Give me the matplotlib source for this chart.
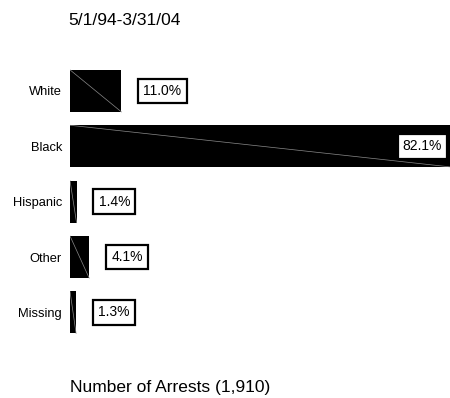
import matplotlib
matplotlib.use('Agg')
import matplotlib.pyplot as plt

# arrests by race, share of total
races = ['White', 'Black', 'Hispanic', 'Other', 'Missing']
pct = [11.0, 82.1, 1.4, 4.1, 1.3]
pct_labels = ['11.0%', '82.1%', '1.4%', '4.1%', '1.3%']
period = '5/1/94-3/31/04'
total_label = 'Number of Arrests (1,910)'

plt.rcParams['font.family'] = ['Liberation Sans', 'DejaVu Sans']

fig = plt.figure(figsize=(4.5, 3.98), dpi=100)
ax = fig.add_axes([0.1556, 0.1106, 0.8444, 0.7653])

ypos = list(range(len(races)))
bar_h = 0.76
ax.barh(ypos, pct, height=bar_h, color='black', edgecolor='none')

# thin seam across each bar, like the original rendering
for y, v in zip(ypos, pct):
    ax.plot([0, v], [y - bar_h / 2, y + bar_h / 2], color='#8a8a8a', lw=0.5)

box = dict(boxstyle='square,pad=0.38', facecolor='white', edgecolor='black', linewidth=1.6)
for y, v, lab in zip(ypos, pct, pct_labels):
    if v > 50:
        # too long: put the label inside the end of the bar
        ax.annotate(lab, xy=(v, y), xytext=(-12, 0), textcoords='offset pixels',
                    ha='right', va='center', fontsize=10, bbox=box, annotation_clip=False)
    else:
        ax.annotate(lab, xy=(v, y), xytext=(22, 0), textcoords='offset pixels',
                    ha='left', va='center', fontsize=10, bbox=box)

ax.set_xlim(0, 81.2)
ax.set_ylim(4.75, -0.75)
ax.set_yticks(ypos)
ax.set_yticklabels(races, fontsize=9.3)
ax.set_xticks([])
ax.tick_params(axis='y', length=0, pad=5.8)
for s in ax.spines.values():
    s.set_visible(False)

fig.text(68 / 450, 1 - 25 / 398, period, fontsize=12.5, ha='left', va='baseline')
fig.text(70 / 450, 1 - 392 / 398, total_label, fontsize=12.5, ha='left', va='baseline')

plt.savefig('out.png', dpi=100)
